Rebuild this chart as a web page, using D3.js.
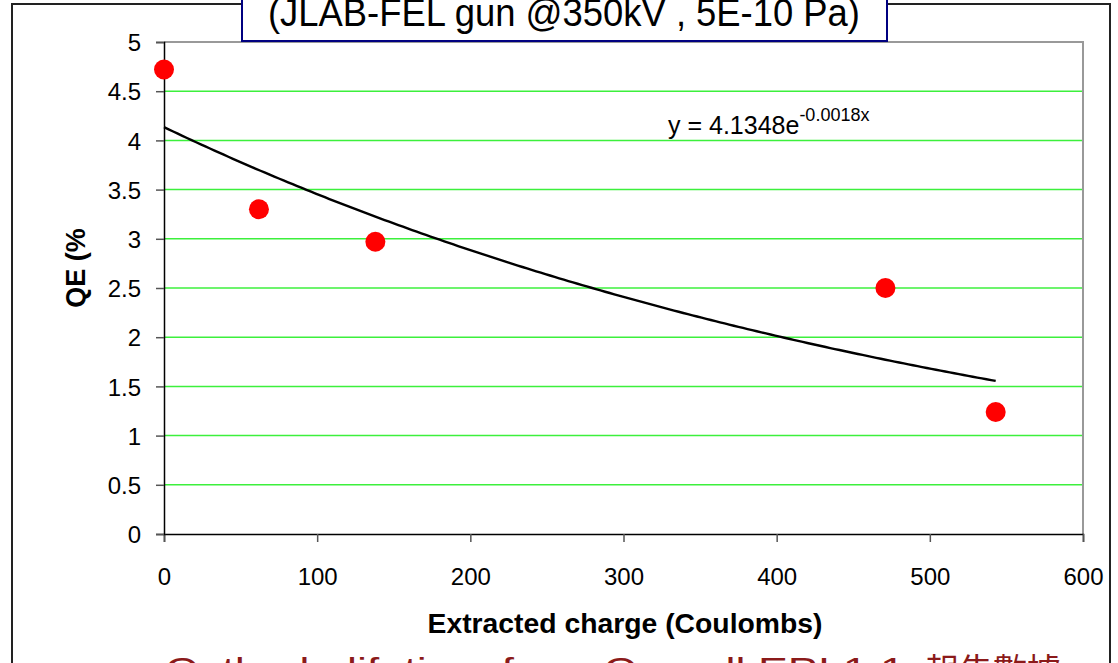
<!DOCTYPE html>
<html>
<head>
<meta charset="utf-8">
<script src="https://cdn.jsdelivr.net/npm/d3@7"></script>
<style>
  body { margin: 0; background: #fff; }
  svg { display: block; font-family: "Liberation Sans", Arial, sans-serif; }
</style>
</head>
<body>
<svg id="chart" width="1118" height="663"></svg>
<script>
// measured points
const charge = [0, 62, 138, 471, 543]
const qe = [4.72, 3.30, 2.97, 2.50, 1.24]
const xTicks = [0, 100, 200, 300, 400, 500, 600]
const yTicks = [0, 0.5, 1, 1.5, 2, 2.5, 3, 3.5, 4, 4.5, 5]
// exponential trendline as printed on the chart
const fitA = 4.1348
const fitB = -0.0018
const fitRange = [0, 543]

const title = '(JLAB-FEL gun @350kV , 5E-10 Pa)'
const xTitle = 'Extracted charge (Coulombs)'
const yTitle = 'QE (%'
const footerLatin = 'Cathode lifetime from Cornell EPI 1.1'
const footerCjk = '報告數據'

const svg = d3.select('#chart')
const margin = {top: 42, right: 35, bottom: 129, left: 164}
const W = 1118, H = 663

const x = d3.scaleLinear().domain([0, 600]).range([margin.left, W - margin.right])
const y = d3.scaleLinear().domain([0, 5]).range([H - margin.bottom, margin.top])

// outer chart frame
svg.append('rect')
    .attr('x', 12).attr('y', 4)
    .attr('width', 1098).attr('height', 700)
    .attr('fill', 'none').attr('stroke', '#222').attr('stroke-width', 2)

// gridlines
svg.append('g')
  .selectAll('line')
  .data(yTicks.filter(d => d > 0))
  .enter().append('line')
    .attr('x1', x(0)).attr('x2', x(600))
    .attr('y1', d => y(d)).attr('y2', d => y(d))
    .attr('stroke', '#3cf03c').attr('stroke-width', 1.5)

// plot area border (top/right)
svg.append('path')
    .attr('d', `M${x(0)},${y(5)}H${x(600)}V${y(0)}`)
    .attr('fill', 'none').attr('stroke', '#999').attr('stroke-width', 2)

// axes
const gx = svg.append('g')
    .attr('transform', `translate(0,${y(0)})`)
    .call(d3.axisBottom(x).tickValues(xTicks).tickSize(8).tickPadding(43).tickFormat(d3.format('d')))
const gy = svg.append('g')
    .attr('transform', `translate(${x(0)},0)`)
    .call(d3.axisLeft(y).tickValues(yTicks).tickSize(8).tickPadding(15).tickFormat(d => d))

;[gx, gy].forEach(g => {
  g.select('.domain').attr('stroke', '#000').attr('stroke-width', 1.5)
  g.selectAll('.tick line').attr('stroke', '#555').attr('stroke-width', 1.5)
  g.selectAll('.tick text')
      .attr('font-family', '"Liberation Sans", Arial, sans-serif')
      .attr('font-size', 24).attr('fill', '#000')
})
gx.selectAll('.tick text').attr('dy', 0)
gy.selectAll('.tick text').attr('dy', '0.36em')

// trendline
const fitX = d3.range(fitRange[0], fitRange[1] + 1, 3)
const line = d3.line().x(d => x(d)).y(d => y(fitA * Math.exp(fitB * d)))
svg.append('path')
    .datum(fitX)
    .attr('d', line)
    .attr('fill', 'none').attr('stroke', '#000').attr('stroke-width', 2.4)

// points
svg.append('g')
  .selectAll('circle')
  .data(charge.map((c, i) => ({c, v: qe[i]})))
  .enter().append('circle')
    .attr('cx', d => x(d.c)).attr('cy', d => y(d.v))
    .attr('r', 10).attr('fill', '#ff0000')

// equation label
const eq = svg.append('text')
    .attr('x', 668).attr('y', 134)
    .attr('font-size', 25).attr('fill', '#000')
eq.append('tspan').text(`y = ${fitA}e`)
eq.append('tspan').attr('dy', -13).attr('font-size', 18).text(`${fitB}x`)

// axis titles
svg.append('text')
    .attr('x', 625).attr('y', 633)
    .attr('text-anchor', 'middle')
    .attr('font-size', 27).attr('font-weight', 'bold')
    .attr('textLength', 395).attr('lengthAdjust', 'spacingAndGlyphs')
    .text(xTitle)
svg.append('text')
    .attr('transform', 'translate(85,268) rotate(-90)')
    .attr('text-anchor', 'middle')
    .attr('font-size', 27).attr('font-weight', 'bold')
    .text(yTitle)

// title box
svg.append('rect')
    .attr('x', 242).attr('y', -20)
    .attr('width', 645).attr('height', 61)
    .attr('fill', '#fff').attr('stroke', '#000080').attr('stroke-width', 2)
svg.append('text')
    .attr('x', 268).attr('y', 26)
    .attr('font-size', 38)
    .attr('textLength', 592).attr('lengthAdjust', 'spacingAndGlyphs')
    .text(title)

// cut-off caption under the chart
svg.append('text')
    .attr('x', 165).attr('y', 681)
    .attr('font-size', 34).attr('fill', '#8b1a1a')
    .attr('textLength', 740).attr('lengthAdjust', 'spacingAndGlyphs')
    .text(footerLatin)
svg.append('text')
    .attr('x', 925).attr('y', 683)
    .attr('font-size', 34).attr('fill', '#8b1a1a')
    .attr('font-family', '"Noto Sans CJK TC", sans-serif')
    .text(footerCjk)
</script>
</body>
</html>
